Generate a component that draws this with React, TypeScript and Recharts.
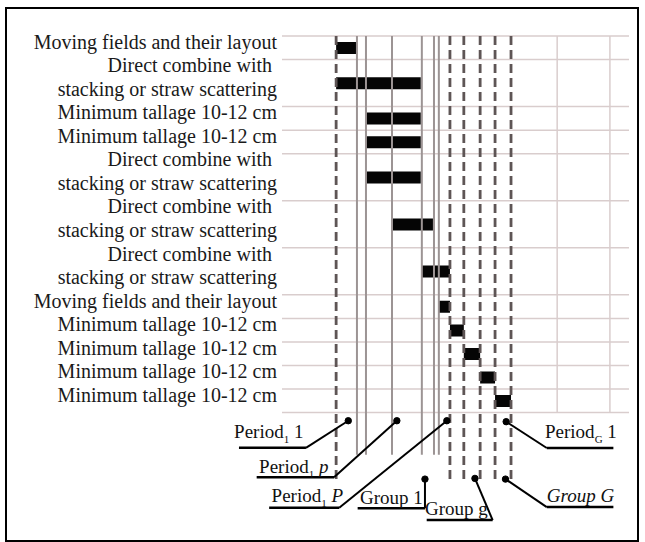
import React from 'react';
import { ComposedChart, Bar, XAxis, YAxis, ReferenceLine, ReferenceDot } from 'recharts';

// ---------- data ----------
const rowLabels: string[][] = [
  ['Moving fields and their layout'],
  ['Direct combine with\u00a0', 'stacking or straw scattering'],
  ['Minimum tallage 10-12 cm'],
  ['Minimum tallage 10-12 cm'],
  ['Direct combine with\u00a0', 'stacking or straw scattering'],
  ['Direct combine with\u00a0', 'stacking or straw scattering'],
  ['Direct combine with\u00a0', 'stacking or straw scattering'],
  ['Moving fields and their layout'],
  ['Minimum tallage 10-12 cm'],
  ['Minimum tallage 10-12 cm'],
  ['Minimum tallage 10-12 cm'],
  ['Minimum tallage 10-12 cm'],
];
const taskStart = [15.6, 15.6, 24.2, 24.2, 24.2, 31.7, 40.3, 45.2, 48.4, 52.4, 57.1, 61.4];
const taskEnd = [21.6, 40.0, 40.0, 40.0, 40.0, 43.5, 48.4, 48.4, 52.4, 57.1, 61.4, 66.0];

const groupBoundaries = [15.6, 48.4, 52.4, 57.1, 61.4, 66.0]; // dashed
const periodBoundaries = [21.6, 24.2, 31.7, 40.3, 43.8, 45.2]; // solid
const scaleGrid = [79.3, 94.5];

// callouts: label parts [text, style] ; style: n normal, s subscript, i italic
const calloutLabels: [string, string][][] = [
  [['Period', 'n'], ['1', 's'], [' 1', 'n']],
  [['Period', 'n'], ['1', 's'], [' ', 'n'], ['p', 'i']],
  [['Period', 'n'], ['1', 's'], [' ', 'n'], ['P', 'i']],
  [['Group 1', 'n']],
  [['Group g', 'n']],
  [['Period', 'n'], ['G', 's'], [' 1', 'n']],
  [['Group G', 'i']],
];
const calloutDots: [number, number][] = [
  [19.1, 16.35], [33.1, 16.35], [47.5, 16.35], [41.2, 18.83], [55.6, 18.8], [64.6, 16.39], [64.4, 18.83],
];
const calloutElbows: [number, number][] = [
  [6.9, 17.5], [15.0, 18.75], [16.5, 20.05], [41.2, 20.07], [60.7, 20.57], [76.3, 17.51], [76.3, 20.02],
];
const calloutEnds: [number, number][] = [
  [-12.4, 17.5], [-7.3, 18.75], [-3.7, 20.05], [21.8, 20.07], [41.7, 20.57], [95.5, 17.51], [95.5, 20.02],
];
const calloutTextAt: [number, number][] = [
  [-13.8, 16.82], [-6.6, 18.3], [-3.0, 19.55], [22.5, 19.63], [41.2, 20.11], [75.8, 16.82], [76.3, 19.55],
];

// ---------- derived ----------
const lineLabels = rowLabels.flat();
const rowBounds: number[] = [0];
rowLabels.forEach((r) => rowBounds.push(rowBounds[rowBounds.length - 1] + r.length));
const data = rowLabels.map((r, i) => ({
  y: rowBounds[i] + r.length / 2,
  range: [taskStart[i], taskEnd[i]],
}));
const lineTicks = lineLabels.map((_, i) => i + 0.5);
const totalLines = lineLabels.length;

const SERIF = "'Liberation Serif', 'Times New Roman', serif";
const GRID = '#d9cdcd';
const SOLID = '#9c9494';
const DASH = '#5e5555';

const YTick = (props: any) => {
  const { x, y, payload } = props;
  const label = lineLabels[Math.floor(payload.value)];
  return (
    <text x={x} y={y + 1} textAnchor="end" fontFamily={SERIF} fontSize={20} fill="#1a1a1a">
      {label}
    </text>
  );
};

const CalloutText = ({ cx, cy, parts }: { cx: number; cy: number; parts: [string, string][] }) => {
  let shift = 0;
  return (
    <text x={cx} y={cy + 6} fontFamily={SERIF} fontSize={19} fill="#111" style={{ whiteSpace: 'pre' }}>
      {parts.map(([t, s], k) => {
        let dy = 0;
        if (s === 's' && shift === 0) { dy = 5; shift = 5; }
        else if (s !== 's' && shift !== 0) { dy = -shift; shift = 0; }
        return (
          <tspan
            key={k}
            dy={dy}
            fontSize={s === 's' ? 11 : 19}
            fontStyle={s === 'i' ? 'italic' : 'normal'}
          >
            {t}
          </tspan>
        );
      })}
    </text>
  );
};

export default function App() {
  return (
    <div style={{ position: 'absolute', left: 0, top: 0, width: 645, height: 542, background: '#fff' }}>
      <div
        style={{
          position: 'absolute', left: 5, top: 7, width: 634, height: 535,
          border: '2px solid #000', boxSizing: 'border-box',
        }}
      />
      <div style={{ position: 'absolute', left: 0, top: 0 }}>
        <ComposedChart
          width={645}
          height={542}
          layout="vertical"
          data={data}
          margin={{ top: 36, right: 16, bottom: 129.5, left: 0 }}
        >
          <XAxis type="number" domain={[0, 100]} hide allowDataOverflow />
          <YAxis
            type="number"
            dataKey="y"
            domain={[0, totalLines]}
            width={282}
            ticks={lineTicks}
            interval={0}
            axisLine={false}
            tickLine={false}
            tickSize={0}
            tickMargin={5}
            tick={<YTick />}
            allowDataOverflow
          />
          {rowBounds.map((b) => (
            <ReferenceLine key={'h' + b} y={b} stroke={GRID} strokeWidth={1.5} ifOverflow="visible" />
          ))}
          {scaleGrid.map((v) => (
            <ReferenceLine key={'g' + v} x={v} stroke={GRID} strokeWidth={1.5} ifOverflow="visible" />
          ))}
          <Bar dataKey="range" barSize={12} fill="#050505" isAnimationActive={false} />
          {periodBoundaries.map((v) => (
            <ReferenceLine
              key={'p' + v}
              segment={[{ x: v, y: 0 }, { x: v, y: 17.8 }]}
              stroke={SOLID}
              strokeWidth={2}
              ifOverflow="visible"
            />
          ))}
          {groupBoundaries.map((v) => (
            <ReferenceLine
              key={'d' + v}
              segment={[{ x: v, y: 0 }, { x: v, y: 18.87 }]}
              stroke={DASH}
              strokeWidth={2.8}
              strokeDasharray="9 5"
              ifOverflow="visible"
            />
          ))}
          {calloutDots.map((d, i) => (
            <ReferenceLine
              key={'c1' + i}
              segment={[{ x: d[0], y: d[1] }, { x: calloutElbows[i][0], y: calloutElbows[i][1] }]}
              stroke="#000"
              strokeWidth={2}
              ifOverflow="visible"
            />
          ))}
          {calloutElbows.map((e, i) => (
            <ReferenceLine
              key={'c2' + i}
              segment={[{ x: e[0], y: e[1] }, { x: calloutEnds[i][0], y: calloutEnds[i][1] }]}
              stroke="#000"
              strokeWidth={2.5}
              ifOverflow="visible"
            />
          ))}
          {calloutDots.map((d, i) => (
            <ReferenceDot key={'cd' + i} x={d[0]} y={d[1]} r={3.2} fill="#000" stroke="#000" ifOverflow="visible" />
          ))}
          {calloutTextAt.map((t, i) => (
            <ReferenceDot
              key={'ct' + i}
              x={t[0]}
              y={t[1]}
              r={1}
              ifOverflow="visible"
              shape={(p: any) => <CalloutText cx={p.cx} cy={p.cy} parts={calloutLabels[i]} />}
            />
          ))}
        </ComposedChart>
      </div>
    </div>
  );
}
